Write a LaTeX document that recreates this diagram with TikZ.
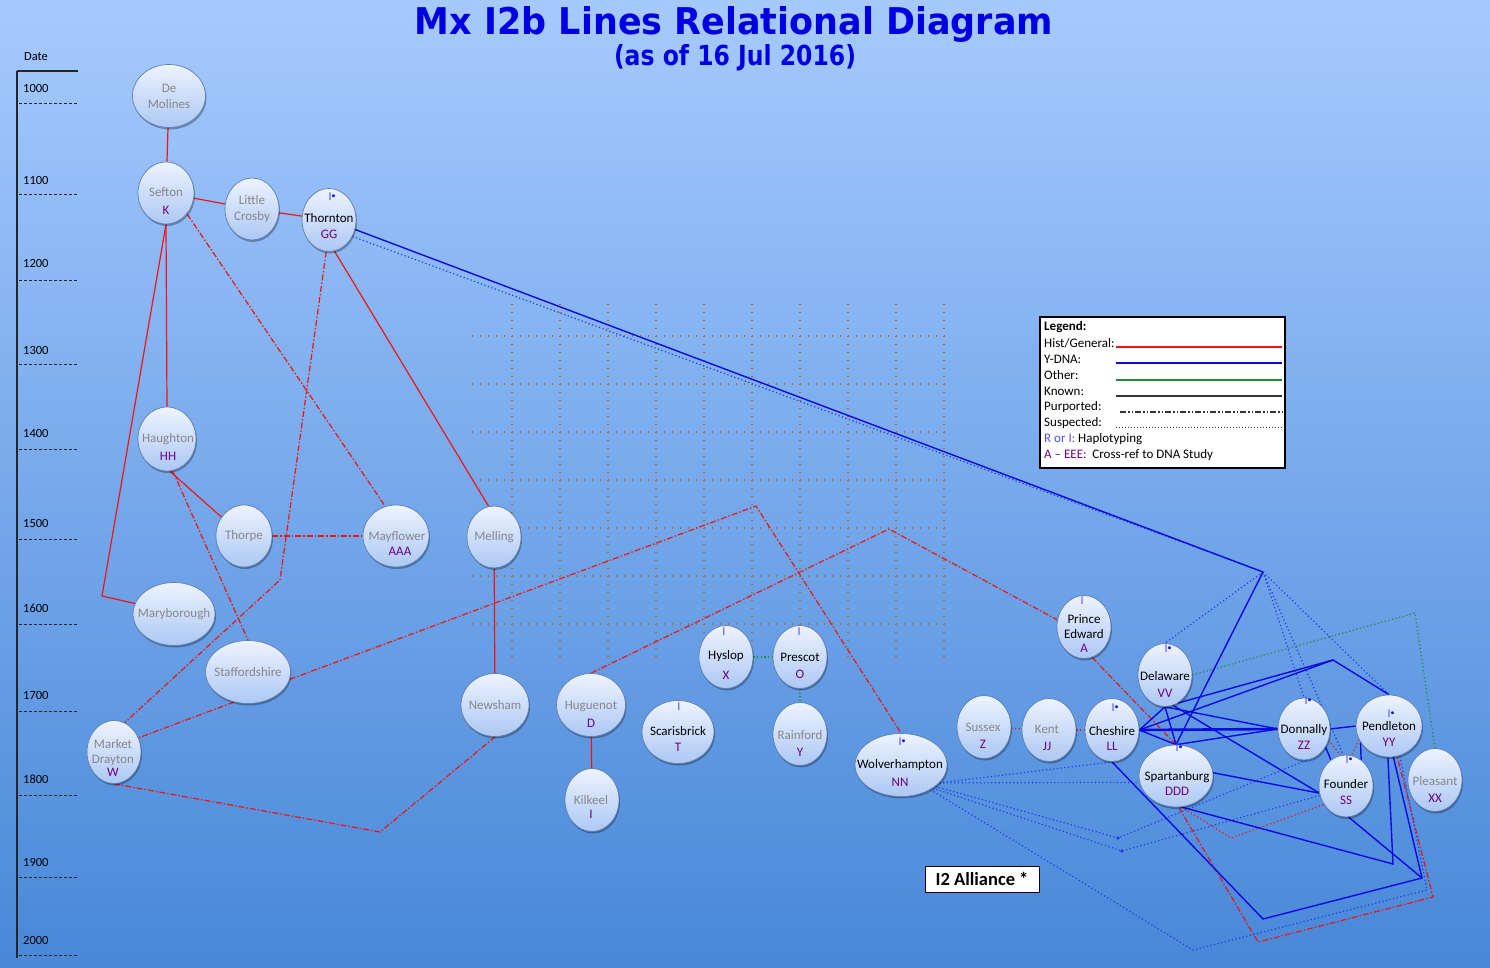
\documentclass[tikz,border=0pt]{standalone}
\usepackage{fontspec}
\setmainfont{Carlito}
\newfontfamily\titlefont{DejaVu Sans}
\usetikzlibrary{shapes.geometric,shadows}
\pgfdeclarelayer{bglayer}
\pgfsetlayers{bglayer,main}
\definecolor{bgtop}{RGB}{166,202,255}
\definecolor{bgbot}{RGB}{72,136,216}
\definecolor{bubtop}{RGB}{238,243,255}
\definecolor{bubbot}{RGB}{172,200,244}
\definecolor{bubline}{RGB}{95,125,175}
\definecolor{gtext}{RGB}{135,135,140}
\definecolor{codec}{RGB}{110,0,130}
\definecolor{hapc}{RGB}{80,80,255}
\definecolor{histc}{RGB}{240,20,20}
\definecolor{ydnac}{RGB}{10,10,225}
\definecolor{ydnasc}{RGB}{30,60,230}
\definecolor{othc}{RGB}{30,140,50}
\definecolor{gridc}{RGB}{170,110,20}
\definecolor{titlec}{RGB}{0,0,225}
\newcommand\gnm[1]{\textcolor{gtext}{#1}}
\newcommand\dcode[1]{\textcolor{codec}{#1}}
\newcommand\hapI{\textcolor{hapc}{I}}
\newcommand\hapIb{\textcolor{hapc}{I}\raisebox{2.5pt}{\textcolor{blue}{\fontsize{8}{8}\selectfont •}}}
\begin{document}
\begin{tikzpicture}[x=1pt,y=-1pt,
  bub/.style={ellipse, draw=bubline, line width=0.7pt, top color=bubtop, bottom color=bubbot, inner sep=0pt,
    drop shadow={shadow xshift=1pt,shadow yshift=-2pt,opacity=0.3,fill=black}},
  bubtxt/.style={align=center, inner sep=0pt, font=\fontsize{13}{16}\selectfont},
  hapn/.style={inner sep=0pt, font=\fontsize{12}{12}\selectfont},
  hist/.style={draw=histc, line width=1.2pt},
  histp/.style={hist, dash pattern=on 6pt off 2pt on 1.5pt off 2pt},
  hists/.style={hist, dash pattern=on 1.2pt off 2.5pt},
  ydna/.style={draw=ydnac, line width=1.4pt},
  ydnas/.style={draw=ydnasc, line width=1.2pt, dash pattern=on 1.2pt off 2.5pt},
  oths/.style={draw=othc, line width=1.2pt, dash pattern=on 1.2pt off 2.5pt},
  griddot/.style={draw=gridc, line width=1.3pt, dash pattern=on 1.3pt off 6.7pt},
  tl/.style={draw=black!85, line width=1.3pt},
  tick/.style={draw=black!85, line width=1pt, dash pattern=on 3pt off 2pt},
  tltxt/.style={inner sep=0pt, font=\fontsize{12.5}{14}\selectfont},
  legtxt/.style={inner sep=0pt, anchor=west, font=\fontsize{13}{15}\selectfont},
  ttl/.style={inner sep=0pt, anchor=base, font=\titlefont\bfseries\fontsize{36}{40}\selectfont}
]
\useasboundingbox (0,0) rectangle (1490,968);

% ---------- title ----------
\node[ttl] (title) at (734,35) {\color{titlec}\resizebox{638pt}{28pt}{Mx I2b Lines Relational Diagram}};
\node[ttl] (sub) at (735,66) {\color{titlec}\resizebox{242pt}{21pt}{(as of 16 Jul 2016)}};

% ---------- timeline ----------
\draw[tl] (17,71) -- (17,958);
\draw[tl] (17,71) -- (78,71);
\node[tltxt] (datelbl) at (36,57) {Date};
\foreach \yy/\lab/\ly in {104/1000/88,195/1100/180,280/1200/263,364/1300/350,449/1400/433,539/1500/523,624/1600/608,711/1700/695,795/1800/779,877/1900/862,955/2000/940}{
  \draw[tick] (19,\yy) -- (78,\yy);
  \node[tltxt,anchor=west] (tl\lab) at (23,\ly) {\lab};
}

% ---------- nodes ----------
\node[bub,minimum width=73pt,minimum height=63pt] (demol) at (169,96) {};
\node[bubtxt] (demol-t) at (169,96) {\gnm{De}\\\gnm{Molines}};
\node[bub,minimum width=56pt,minimum height=62pt] (sefton) at (166,193) {};
\node[bubtxt] (sefton-t) at (166,201) {\gnm{Sefton}\\[2pt]\dcode{K}};
\node[bub,minimum width=54pt,minimum height=62pt] (lcrosby) at (252,209) {};
\node[bubtxt] (lcrosby-t) at (252,209) {\gnm{Little}\\\gnm{Crosby}};
\node[bub,minimum width=54pt,minimum height=63pt] (thornton) at (329,220) {};
\node[hapn] (thornton-i) at (332,197) {\hapIb};
\node[bubtxt] (thornton-t) at (329,226) {Thornton\\\dcode{GG}};
\node[bub,minimum width=58pt,minimum height=64pt] (haughton) at (167,439) {};
\node[bubtxt] (haughton-t) at (168,447) {\gnm{Haughton}\\[2pt]\dcode{HH}};
\node[bub,minimum width=56pt,minimum height=62pt] (thorpe) at (244,536) {};
\node[bubtxt] (thorpe-t) at (244,536) {\gnm{Thorpe}};
\node[bub,minimum width=66pt,minimum height=62pt] (mayflower) at (396,536) {};
\node[bubtxt] (mayflower-t) at (397,544) {\gnm{Mayflower}\\[-1pt]\hspace*{6pt}\dcode{AAA}};
\node[bub,minimum width=54pt,minimum height=62pt] (melling) at (494,537) {};
\node[bubtxt] (melling-t) at (494,537) {\gnm{Melling}};
\node[bub,minimum width=82pt,minimum height=63pt] (marybor) at (174,614) {};
\node[bubtxt] (marybor-t) at (174,614) {\gnm{Maryborough}};
\node[bub,minimum width=85pt,minimum height=63pt] (staffs) at (248,672) {};
\node[bubtxt] (staffs-t) at (248,672) {\gnm{Staffordshire}};
\node[bub,minimum width=54pt,minimum height=63pt] (mktdray) at (114,752) {};
\node[bubtxt] (mktdray-t) at (113,758) {\gnm{Market}\\[-1.5pt]\gnm{Drayton}\\[-2.5pt]\dcode{W}};
\node[bub,minimum width=68pt,minimum height=63pt] (newsham) at (495,705) {};
\node[bubtxt] (newsham-t) at (495,705) {\gnm{Newsham}};
\node[bub,minimum width=69pt,minimum height=63pt] (huguenot) at (591,705) {};
\node[bubtxt] (huguenot-t) at (591,714) {\gnm{Huguenot}\\[2pt]\dcode{D}};
\node[bub,minimum width=54pt,minimum height=63pt] (kilkeel) at (592,800) {};
\node[bubtxt] (kilkeel-t) at (591,807) {\gnm{Kilkeel}\\[-2pt]\dcode{I}};
\node[bub,minimum width=72pt,minimum height=63pt] (scaris) at (678,732) {};
\node[hapn] (scaris-i) at (679,707) {\hapI};
\node[bubtxt] (scaris-t) at (678,739) {Scarisbrick\\\dcode{T}};
\node[bub,minimum width=54pt,minimum height=63pt] (hyslop) at (726,657) {};
\node[hapn] (hyslop-i) at (724,632) {\hapI};
\node[bubtxt] (hyslop-t) at (726,665) {Hyslop\\[4pt]\dcode{X}};
\node[bub,minimum width=54pt,minimum height=63pt] (prescot) at (800,657) {};
\node[hapn] (prescot-i) at (799,632) {\hapI};
\node[bubtxt] (prescot-t) at (800,666) {Prescot\\[1pt]\dcode{O}};
\node[bub,minimum width=54pt,minimum height=63pt] (rainford) at (800,734) {};
\node[bubtxt] (rainford-t) at (800,743) {\gnm{Rainford}\\[1pt]\dcode{Y}};
\node[bub,minimum width=92pt,minimum height=63pt] (wolver) at (901,765) {};
\node[hapn] (wolver-i) at (902,742) {\hapIb};
\node[bubtxt] (wolver-t) at (900,773) {Wolverhampton\\[2pt]\dcode{NN}};
\node[bub,minimum width=54pt,minimum height=63pt] (prince) at (1084,627) {};
\node[hapn] (prince-i) at (1082,601) {\hapI};
\node[bubtxt] (prince-t) at (1084,634) {Prince\\[-1pt]Edward\\[-2pt]\dcode{A}};
\node[bub,minimum width=54pt,minimum height=63pt] (sussex) at (984,727) {};
\node[bubtxt] (sussex-t) at (983,736) {\gnm{Sussex}\\[1pt]\dcode{Z}};
\node[bub,minimum width=54pt,minimum height=63pt] (kent) at (1049,730) {};
\node[bubtxt] (kent-t) at (1047,738) {\gnm{Kent}\\[1pt]\dcode{JJ}};
\node[bub,minimum width=54pt,minimum height=63pt] (cheshire) at (1112,730) {};
\node[hapn] (cheshire-i) at (1115,708) {\hapIb};
\node[bubtxt] (cheshire-t) at (1112,738) {Cheshire\\[-1pt]\dcode{LL}};
\node[bub,minimum width=54pt,minimum height=63pt] (delaware) at (1165,675) {};
\node[hapn] (delaware-i) at (1168,649) {\hapIb};
\node[bubtxt] (delaware-t) at (1165,684) {Delaware\\[1pt]\dcode{VV}};
\node[bub,minimum width=74pt,minimum height=62pt] (spartan) at (1176,776) {};
\node[hapn] (spartan-i) at (1179,748) {\hapIb};
\node[bubtxt] (spartan-t) at (1177,783) {Spartanburg\\[-1pt]\dcode{DDD}};
\node[bub,minimum width=52pt,minimum height=62pt] (donnally) at (1304,729) {};
\node[hapn] (donnally-i) at (1308,701) {\hapIb};
\node[bubtxt] (donnally-t) at (1304,737) {Donnally\\\dcode{ZZ}};
\node[bub,minimum width=66pt,minimum height=62pt] (pendleton) at (1389,726) {};
\node[hapn] (pendleton-i) at (1391,714) {\hapIb};
\node[bubtxt] (pendleton-t) at (1389,734) {Pendleton\\\dcode{YY}};
\node[bub,minimum width=54pt,minimum height=62pt] (founder) at (1346,786) {};
\node[hapn] (founder-i) at (1349,760) {\hapIb};
\node[bubtxt] (founder-t) at (1346,792) {Founder\\\dcode{SS}};
\node[bub,minimum width=54pt,minimum height=63pt] (pleasant) at (1435,780) {};
\node[bubtxt] (pleasant-t) at (1435,789) {\gnm{Pleasant}\\[1pt]\dcode{XX}};

% ---------- legend ----------
\node[draw=black, line width=2pt, fill=white, minimum width=245pt, minimum height=151pt, anchor=north west, inner sep=0pt] (legend) at (1039,316) {};
\node[legtxt] (lg1) at (1044,327) {\textbf{Legend:}};
\node[legtxt] (lg2) at (1044,343) {Hist/General:};
\node[legtxt] (lg3) at (1044,359) {Y-DNA:};
\node[legtxt] (lg4) at (1044,375) {Other:};
\node[legtxt] (lg5) at (1044,391) {Known:};
\node[legtxt] (lg6) at (1044,407) {Purported:};
\node[legtxt] (lg7) at (1044,423) {Suspected:};
\node[legtxt] (lg8) at (1044,439) {\textcolor{hapc}{R or I:} Haplotyping};
\node[legtxt] (lg9) at (1044,455) {\textcolor{codec}{A – EEE:}\ \ Cross-ref to DNA Study};
\draw[histc, line width=1.2pt] (1116,347) -- (1282,347);
\draw[ydnac, line width=1.2pt] (1116,363) -- (1282,363);
\draw[othc, line width=1.2pt] (1116,380) -- (1282,380);
\draw[black!80, line width=1.2pt] (1116,396) -- (1282,396);
\draw[black!80, line width=1.2pt, dash pattern=on 6pt off 2pt on 1.5pt off 2pt on 1.5pt off 2pt] (1120,412) -- (1282,412);
\draw[black!80, line width=1pt, dash pattern=on 1pt off 2pt] (1116,427) -- (1282,427);

% ---------- I2 Alliance ----------
\node[draw=black, fill=white, line width=1pt, minimum width=114pt, minimum height=26pt, inner sep=0pt,
  font=\fontsize{18.5}{20}\selectfont\bfseries] (alliance) at (982,879) {I2 Alliance *};

% ---------- bend points ----------
\coordinate (cmb) at (102,596);
\coordinate (cth) at (280,580);
\coordinate (cst) at (756,506);
\coordinate (chu) at (889,529);
\coordinate (cmd) at (380,832);
\coordinate (csp1) at (1258,942);
\coordinate (csp2) at (1433,897);
\coordinate (csp3) at (1231,838);
\coordinate (cgr) at (1415,613);
\coordinate (cv) at (1263,572);
\coordinate (cpk) at (1333,660);
\coordinate (cb1) at (1393,864);
\coordinate (cb2) at (1263,919);
\coordinate (cb3) at (1422,878);
\coordinate (cw1) at (1118,838);
\coordinate (cw2) at (1122,851);
\coordinate (cw3) at (1193,950);
\coordinate (cw4) at (1427,890);

\begin{pgfonlayer}{bglayer}
\shade[top color=bgtop, bottom color=bgbot] (0,0) rectangle (1490,968);
% grid of dots
\foreach \gx in {512,560,...,944} \draw[griddot] (\gx,304) -- (\gx,658);
\foreach \gy in {336,384,...,624} \draw[griddot] (472,\gy) -- (946,\gy);

% hist / known
\draw[hist] (demol) -- (sefton);
\draw[hist] (sefton) -- (lcrosby);
\draw[hist] (lcrosby) -- (thornton);
\draw[hist] (sefton.south) -- (haughton.north);
\draw[hist] (sefton.south) -- (cmb) -- (marybor.165);
\draw[hist] (haughton.-85) -- (thorpe.140);
\draw[hist] (thornton.-80) -- (melling.100);
\draw[hist] (melling) -- (newsham);
\draw[hist] (huguenot) -- (kilkeel);
% hist / purported
\draw[histp] (sefton.-45) -- (mayflower.110);
\draw[histp] (thornton.-95) -- (cth) -- (mktdray.70);
\draw[histp] (thorpe) -- (mayflower);
\draw[histp] (haughton.-80) -- (staffs.north);
\draw[histp] (staffs.-115) -- (mktdray.30);
\draw[histp] (staffs.-10) -- (cst) -- (wolver.north);
\draw[histp] (huguenot.north) -- (chu) -- (prince.165);
\draw[histp] (mktdray.south) -- (cmd) -- (newsham.south);
\draw[histp] (prince.-75) -- (spartan.north);
\draw[histp] (spartan.-85) -- (csp1) -- (csp2) -- (pendleton.-75);
% hist / suspected
\draw[hists] (spartan.-80) -- (csp3) -- (founder.-140);
\draw[hists] (sussex) -- (kent);
\draw[hists] (kent) -- (cheshire);
\draw[hists] (donnally.-25) -- (founder.100);
\draw[hists] (pendleton.-155) -- (founder.80);
% other / suspected
\draw[oths] (hyslop) -- (prescot);
\draw[oths] (prescot) -- (rainford);
\draw[oths] (delaware.east) -- (cgr) -- (pleasant.north);
% Y-DNA suspected
\draw[ydnas] (thornton.-35) -- (cv);
\draw[ydnas] (cv) -- (delaware.north);
\draw[ydnas] (cv) -- (donnally.north);
\draw[ydnas] (cv) -- (founder.95);
\draw[ydnas] (cv) -- (pendleton.north);
\draw[ydnas] (wolver.-25) -- (cheshire.south);
\draw[ydnas] (wolver.-25) -- (spartan.-170);
\draw[ydnas] (wolver.-32) -- (cw1) -- (donnally.-60);
\draw[ydnas] (wolver.-36) -- (cw2) -- (founder.-160);
\draw[ydnas] (wolver.-40) -- (cw3) -- (cw4) -- (pendleton.-70);
\fill[ydnasc] (cw1) circle (1.8pt);
\fill[ydnasc] (cw2) circle (1.8pt);
% Y-DNA known
\draw[ydna] (thornton.-20) -- (cv);
\draw[ydna] (cv) -- (spartan.north);
\draw[ydna] (cheshire.east) -- (delaware.south);
\draw[ydna] (cheshire.east) -- (spartan.north);
\draw[ydna, line width=2.6pt] (cheshire.east) -- (donnally.west);
\draw[ydna] (cheshire.east) -- (cpk) -- (pendleton.north);
\draw[ydna] (delaware.-65) -- (cpk);
\draw[ydna] (delaware.south) -- (spartan.north);
\draw[ydna] (delaware.south) -- (donnally.west);
\draw[ydna] (delaware.-75) -- (founder.-165);
\draw[ydna] (spartan.north) -- (donnally.west);
\draw[ydna] (spartan.5) -- (founder.-165);
\draw[ydna] (spartan.-80) -- (cb1) -- (pendleton.-92);
\draw[ydna] (cheshire.south) -- (cb2) -- (cb3) -- (pendleton.-82);
\draw[ydna] (founder.-85) -- (cb3);
\draw[ydna] (donnally.east) -- (pendleton.west);
\draw[ydna] (donnally.-40) -- (founder.120);
\draw[ydna] (pendleton.-150) -- (founder.60);
\end{pgfonlayer}
\end{tikzpicture}
\end{document}
